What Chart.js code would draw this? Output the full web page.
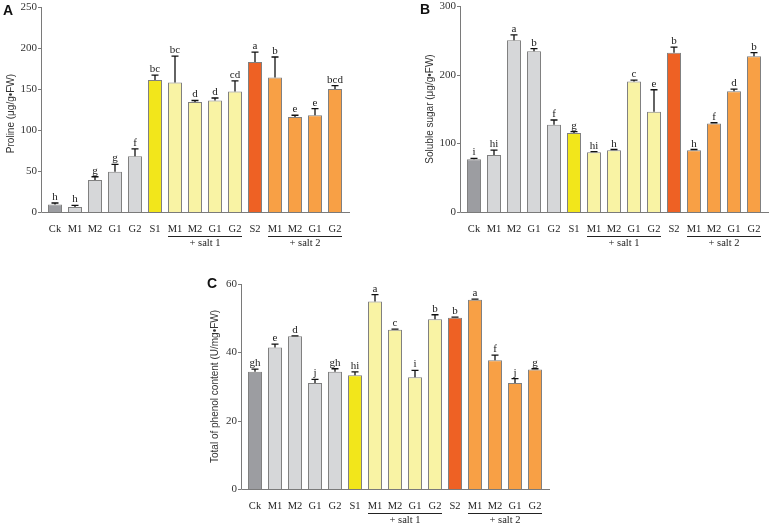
<!DOCTYPE html>
<html>
<head>
<meta charset="utf-8">
<script src="https://cdn.jsdelivr.net/npm/chart.js@4.4.0/dist/chart.umd.min.js"></script>
<style>
  html, body { margin: 0; padding: 0; background: #fff; }
  body { width: 772px; height: 528px; position: relative; overflow: hidden; }
  canvas { position: absolute; }
</style>
</head>
<body>
<canvas id="chartA" width="386" height="264" style="left:0;top:0"></canvas>
<canvas id="chartB" width="386" height="264" style="left:386px;top:0"></canvas>
<canvas id="chartC" width="386" height="264" style="left:190px;top:264px"></canvas>
<script>
// categories (same for all three panels)
const categories = ['Ck', 'M1', 'M2', 'G1', 'G2', 'S1', 'M1', 'M2', 'G1', 'G2', 'S2', 'M1', 'M2', 'G1', 'G2'];
const groups = [
    { label: '+ salt 1', from: 6, to: 9 },
    { label: '+ salt 2', from: 11, to: 14 }
];

// A - proline
const prolineMean = [9, 6, 39, 49, 68, 161, 158, 134, 136, 147, 183, 164, 116, 118, 150];
const prolineErr = [2, 2, 4, 9, 9, 6, 32, 2, 3, 13, 12, 25, 2, 8, 4];
const prolineLetters = ['h', 'h', 'g', 'g', 'f', 'bc', 'bc', 'd', 'd', 'cd', 'a', 'b', 'e', 'e', 'bcd'];
const prolineTicks = [0, 50, 100, 150, 200, 250];

// B - soluble sugar
const sugarMean = [77, 83, 250, 234, 127, 115, 87, 90, 190, 146, 232, 90, 129, 176, 227];
const sugarErr = [1, 7, 8, 4, 7, 2, 1, 1, 2, 32, 8, 1, 1, 3, 5];
const sugarLetters = ['i', 'hi', 'a', 'b', 'f', 'g', 'hi', 'h', 'c', 'e', 'b', 'h', 'f', 'd', 'b'];
const sugarTicks = [0, 100, 200, 300];

// C - total phenol
const phenolMean = [34.3, 41.4, 44.7, 31.0, 34.3, 33.3, 54.9, 46.6, 32.7, 49.7, 50.1, 55.4, 37.7, 31.0, 35.0];
const phenolErr = [0.8, 1.0, 0.1, 1.1, 0.9, 1.0, 2.0, 0.2, 2.0, 1.3, 0.2, 0.2, 1.5, 1.3, 0.2];
const phenolLetters = ['gh', 'e', 'd', 'j', 'gh', 'hi', 'a', 'c', 'i', 'b', 'b', 'a', 'f', 'j', 'g'];
const phenolTicks = [0, 20, 40, 60];

// bar colours
const barColors = [
    '#9c9da1',
    '#d6d7d9', '#d6d7d9', '#d6d7d9', '#d6d7d9',
    '#f2e61b',
    '#f9f3a4', '#f9f3a4', '#f9f3a4', '#f9f3a4',
    '#ee6124',
    '#f8a045', '#f8a045', '#f8a045', '#f8a045'
];

const SERIF = "'Liberation Serif', 'Times New Roman', serif";
const SANS = "'Liberation Sans', Arial, sans-serif";

function makePanel(canvasId, cfg) {
    const decorations = {
        id: 'decorations_' + canvasId,
        afterDatasetsDraw(chart) {
            const ctx = chart.ctx;
            const area = chart.chartArea;
            const y = chart.scales.y;
            const bars = chart.getDatasetMeta(0).data;
            const axisX = area.left - 4;

            ctx.save();

            // error bars + letters
            ctx.strokeStyle = '#111';
            ctx.lineWidth = 1.3;
            ctx.fillStyle = '#222';
            ctx.font = '11px ' + SERIF;
            ctx.textAlign = 'center';
            ctx.textBaseline = 'alphabetic';
            bars.forEach((bar, i) => {
                const top = y.getPixelForValue(cfg.mean[i]);
                const errTop = y.getPixelForValue(cfg.mean[i] + cfg.err[i]);
                ctx.beginPath();
                ctx.moveTo(bar.x, top);
                ctx.lineTo(bar.x, errTop);
                ctx.moveTo(bar.x - 3.5, errTop);
                ctx.lineTo(bar.x + 3.5, errTop);
                ctx.stroke();
                ctx.fillText(cfg.letters[i], bar.x, errTop - 3);
            });

            // axes
            ctx.strokeStyle = '#7a7a7a';
            ctx.lineWidth = 1;
            ctx.beginPath();
            ctx.moveTo(axisX + 0.5, area.top);
            ctx.lineTo(axisX + 0.5, area.bottom + 0.5);
            ctx.lineTo(area.right + 5, area.bottom + 0.5);
            ctx.stroke();

            // y ticks
            ctx.fillStyle = '#333';
            ctx.font = '11px ' + SERIF;
            ctx.textAlign = 'right';
            ctx.textBaseline = 'middle';
            cfg.ticks.forEach(t => {
                const py = Math.round(y.getPixelForValue(t)) + 0.5;
                ctx.beginPath();
                ctx.moveTo(axisX - 3, py);
                ctx.lineTo(axisX, py);
                ctx.stroke();
                ctx.fillText(String(t), axisX - 4, py);
            });

            // category labels
            const base = area.bottom;
            ctx.fillStyle = '#222';
            ctx.font = '10.5px ' + SERIF;
            ctx.textAlign = 'center';
            bars.forEach((bar, i) => {
                ctx.fillText(categories[i], bar.x, base + 17);
            });

            // group underlines
            ctx.strokeStyle = '#222';
            groups.forEach(g => {
                const x0 = bars[g.from].x - bars[g.from].width / 2;
                const x1 = bars[g.to].x + bars[g.to].width / 2;
                ctx.beginPath();
                ctx.moveTo(x0, base + 24.5);
                ctx.lineTo(x1, base + 24.5);
                ctx.stroke();
                ctx.fillText(g.label, (x0 + x1) / 2, base + 31);
            });

            // y title
            ctx.save();
            ctx.translate(cfg.titleX, (area.top + area.bottom) / 2 + cfg.titleShift);
            ctx.rotate(-Math.PI / 2);
            ctx.font = '10px ' + SANS;
            ctx.fillStyle = '#333';
            ctx.textAlign = 'center';
            ctx.fillText(cfg.title, 0, 0);
            ctx.restore();

            // panel letter
            ctx.font = 'bold 14px ' + SANS;
            ctx.fillStyle = '#111';
            ctx.textAlign = 'left';
            ctx.textBaseline = 'top';
            ctx.fillText(cfg.panel, cfg.panelX, cfg.panelY);

            ctx.restore();
        }
    };

    return new Chart(document.getElementById(canvasId), {
        type: 'bar',
        data: {
            labels: categories,
            datasets: [{
                data: cfg.mean,
                backgroundColor: barColors,
                borderColor: '#808080',
                borderWidth: 1,
                barPercentage: 0.7,
                categoryPercentage: 1.0
            }]
        },
        options: {
            responsive: false,
            animation: false,
            layout: { padding: cfg.padding },
            plugins: {
                legend: { display: false },
                tooltip: { enabled: false }
            },
            scales: {
                x: { display: false },
                y: { display: false, min: 0, max: cfg.max }
            }
        },
        plugins: [decorations]
    });
}

makePanel('chartA', {
    mean: prolineMean, err: prolineErr, letters: prolineLetters, ticks: prolineTicks, max: 250,
    title: 'Proline (\u03bcg/g\u2022FW)', titleX: 11, titleShift: 4,
    panel: 'A', panelX: 3, panelY: 4,
    padding: { left: 45, right: 41, top: 7, bottom: 52 }
});

makePanel('chartB', {
    mean: sugarMean, err: sugarErr, letters: sugarLetters, ticks: sugarTicks, max: 300,
    title: 'Soluble sugar (\u03bcg/g\u2022FW)', titleX: 44, titleShift: 0,
    panel: 'B', panelX: 34, panelY: 3,
    padding: { left: 78, right: 8, top: 6, bottom: 52 }
});

makePanel('chartC', {
    mean: phenolMean, err: phenolErr, letters: phenolLetters, ticks: phenolTicks, max: 60,
    title: 'Total of phenol content (U/mg\u2022FW)', titleX: 25, titleShift: 0,
    panel: 'C', panelX: 17, panelY: 13,
    padding: { left: 55, right: 31, top: 20, bottom: 39 }
});
</script>
</body>
</html>
